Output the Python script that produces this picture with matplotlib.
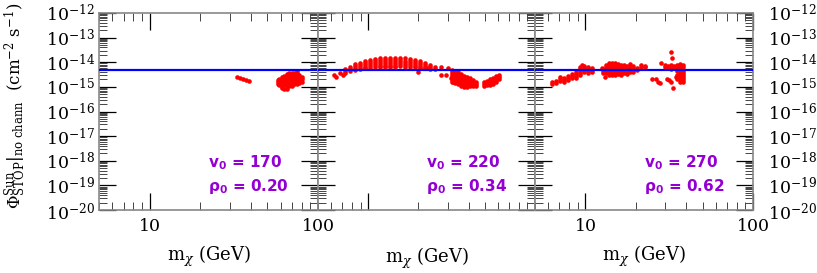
import numpy as np
import matplotlib.pyplot as plt
from matplotlib.ticker import FixedLocator, LogLocator, NullFormatter

plt.rcParams['font.family'] = 'DejaVu Serif'
plt.rcParams['mathtext.fontset'] = 'dejavuserif'

# flux values below are in units of 1e-15 cm^-2 s^-1, masses in GeV
phi_limit = 4.85

# panel 1: v0 = 170, rho0 = 0.20
mx1 = [33.0, 34.4, 35.9, 37.5, 39.1,
       57.5, 57.5, 57.5,
       59, 59, 59, 59,
       61, 61, 61, 61, 61, 61,
       63, 63, 63, 63, 63, 63,
       65, 65, 65, 65, 65, 65, 65,
       67.5, 67.5, 67.5, 67.5, 67.5, 67.5,
       70, 70, 70, 70, 70, 70,
       72.5, 72.5, 72.5, 72.5, 72.5, 72.5,
       75, 75, 75, 75, 75, 75,
       77.5, 77.5, 77.5, 77.5,
       80, 80, 80]
phi1 = [2.5, 2.3, 2.1, 1.9, 1.75,
        1.9, 1.6, 1.3,
        2.1, 1.7, 1.4, 1.15,
        2.5, 2.0, 1.6, 1.3, 1.0, 0.9,
        2.8, 2.2, 1.8, 1.45, 1.15, 0.85,
        3.3, 2.6, 2.1, 1.7, 1.35, 1.05, 0.8,
        3.5, 2.8, 2.2, 1.75, 1.4, 1.1,
        3.6, 2.9, 2.3, 1.8, 1.45, 1.1,
        3.8, 3.0, 2.4, 1.9, 1.5, 1.25,
        4.3, 3.5, 2.7, 2.1, 1.65, 1.3,
        3.0, 2.4, 1.9, 1.5,
        2.6, 2.1, 1.6]

# panel 2: v0 = 220, rho0 = 0.34
mx2 = [6.2, 6.4, 6.8, 7.1,
       7.26, 7.26, 7.26,
       7.78, 7.78, 7.78,
       8.33, 8.33, 8.33, 8.33,
       8.93, 8.93, 8.93, 8.93,
       9.56, 9.56, 9.56, 9.56, 9.56,
       10.25, 10.25, 10.25, 10.25, 10.25,
       11.0, 11.0, 11.0, 11.0, 11.0,
       11.8, 11.8, 11.8, 11.8, 11.8, 11.8,
       12.6, 12.6, 12.6, 12.6, 12.6, 12.6,
       13.5, 13.5, 13.5, 13.5, 13.5, 13.5,
       14.5, 14.5, 14.5, 14.5, 14.5, 14.5,
       15.5, 15.5, 15.5, 15.5, 15.5,
       16.6, 16.6, 16.6, 16.6, 16.6,
       17.8, 17.8, 17.8, 17.8, 17.8,
       19.1, 19.1, 19.1, 19.1, 19.1,
       20.4, 20.4, 20.4, 20.4, 20.4,
       21.9, 21.9, 21.9, 21.9,
       23.5, 23.5, 23.5,
       25.2, 25.2,
       19.9, 22.8,
       27.3, 29.9, 27.3, 29.2, 31.4, 32.3,
       31.8, 31.8, 31.8, 31.8, 31.8, 31.8, 31.8,
       33.2, 33.2, 33.2, 33.2, 33.2, 33.2, 33.2,
       34.6, 34.6, 34.6, 34.6, 34.6, 34.6, 34.6,
       36.0, 36.0, 36.0, 36.0, 36.0, 36.0, 36.0,
       37.5, 37.5, 37.5, 37.5, 37.5, 37.5, 37.5,
       39.1, 39.1, 39.1, 39.1, 39.1, 39.1,
       40.8, 40.8, 40.8, 40.8, 40.8,
       42.5, 42.5, 42.5, 42.5,
       44.3, 44.3, 44.3,
       49.5, 49.5, 49.5,
       51.5, 51.5, 51.5,
       53.7, 53.7, 53.7, 53.7,
       56.0, 56.0, 56.0, 56.0,
       58.4, 58.4, 58.4, 58.4,
       60.8, 60.8, 60.8]
phi2 = [3.0, 2.5, 3.65, 3.0,
        5.3, 4.4, 3.65,
        6.4, 5.3, 4.4,
        8.5, 7.05, 5.85, 4.85,
        9.3, 7.7, 6.4, 5.3,
        11.2, 9.3, 7.7, 6.4, 5.85,
        12.3, 10.2, 8.5, 7.05, 5.85,
        13.6, 11.2, 9.3, 7.7, 6.4,
        14.2, 12.3, 10.2, 8.5, 7.05, 6.2,
        14.9, 12.3, 10.2, 8.5, 7.05, 6.2,
        14.9, 12.3, 10.2, 8.5, 7.05, 6.2,
        14.9, 12.3, 10.2, 8.5, 7.05, 6.2,
        14.5, 12.0, 10.0, 8.3, 6.9,
        14.2, 11.7, 9.7, 8.0, 6.6,
        13.6, 11.2, 9.3, 7.7, 6.4,
        12.3, 10.2, 8.5, 7.05, 6.2,
        11.2, 9.3, 7.7, 6.4, 5.85,
        9.3, 7.7, 6.4, 5.6,
        7.7, 6.4, 5.3,
        6.4, 5.3,
        4.0, 5.85,
        6.4, 5.85, 3.0, 3.0, 2.29, 1.57,
        4.85, 4.0, 3.33, 2.77, 2.29, 1.9, 1.57,
        4.4, 3.65, 3.0, 2.5, 2.1, 1.73, 1.43,
        4.0, 3.33, 2.77, 2.29, 1.9, 1.57, 1.30,
        3.33, 2.77, 2.29, 1.9, 1.57, 1.30, 1.08,
        2.77, 2.29, 1.9, 1.57, 1.30, 1.08, 0.98,
        2.5, 2.1, 1.73, 1.43, 1.18, 0.98,
        2.29, 1.9, 1.57, 1.30, 1.08,
        1.9, 1.57, 1.30, 1.08,
        1.57, 1.30, 1.08,
        1.57, 1.30, 1.08,
        1.73, 1.43, 1.18,
        2.1, 1.73, 1.43, 1.18,
        2.29, 1.9, 1.57, 1.30,
        2.77, 2.29, 1.9, 1.57,
        3.0, 2.5, 2.1]

# panel 3: v0 = 270, rho0 = 0.62
mx3 = [6.3, 6.3,
       6.67, 6.67,
       7.05, 7.05, 7.05,
       7.45, 7.45, 7.45,
       7.87, 7.87, 7.87,
       8.3, 8.3, 8.3,
       8.8, 8.8, 8.8, 8.8,
       9.28, 9.28, 9.28, 9.28, 9.28,
       9.8, 9.8, 9.8, 9.8,
       10.35, 10.35, 10.35, 10.35,
       10.9, 10.9, 10.9,
       9.5,
       12.6, 12.7, 12.7, 12.7,
       13.3, 13.3, 13.3, 13.3, 13.3,
       13.8, 13.8, 13.8, 13.8, 13.8, 13.8, 13.8,
       14.4, 14.4, 14.4, 14.4, 14.4, 14.4, 14.4,
       15.0, 15.0, 15.0, 15.0, 15.0, 15.0, 15.0,
       15.6, 15.6, 15.6, 15.6, 15.6, 15.6,
       16.3, 16.3, 16.3, 16.3, 16.3, 16.3,
       17.0, 17.0, 17.0, 17.0, 17.0,
       17.7, 17.7, 17.7, 17.7, 17.7,
       18.4, 18.4, 18.4, 18.4, 18.4,
       19.2, 19.2, 19.2, 19.2,
       20.3, 20.3,
       21.5, 21.5,
       22.7, 22.7,
       13.0,
       25.0, 26.5, 27.2, 28.0, 28.2,
       32.4, 33.0,
       29.8, 29.8, 31.1, 31.1, 32.4, 32.4, 32.4, 33.8, 33.8,
       35.2, 35.2, 35.2, 36.7, 36.7, 36.7, 38.2, 38.2,
       36.7, 36.7, 36.7, 36.7, 36.7, 36.7, 36.7,
       38.2, 38.2, 38.2, 38.2, 38.2, 38.2, 38.2,
       35.2, 35.2, 35.2,
       30.5, 31.5, 32.4, 33.3, 34.5]
phi3 = [1.57, 1.30,
        1.73, 1.43,
        2.5, 2.1, 1.73,
        2.29, 1.9, 1.57,
        2.77, 2.29, 1.9,
        3.33, 2.77, 2.29,
        4.0, 3.33, 2.77, 2.29,
        6.4, 5.3, 4.4, 3.65, 3.0,
        7.05, 5.85, 4.85, 4.0,
        6.4, 5.3, 4.4, 3.65,
        5.85, 4.85, 4.0,
        7.7,
        5.85, 5.3, 4.4, 3.65,
        7.7, 6.4, 5.3, 4.4, 3.65,
        9.3, 7.7, 6.4, 5.3, 4.4, 3.65, 3.0,
        9.3, 7.7, 6.4, 5.3, 4.4, 3.65, 3.0,
        9.3, 7.7, 6.4, 5.3, 4.4, 3.65, 3.0,
        8.5, 7.05, 5.85, 4.85, 4.0, 3.33,
        7.7, 6.4, 5.3, 4.4, 3.65, 3.0,
        7.7, 6.4, 5.3, 4.4, 3.65,
        7.05, 5.85, 4.85, 4.0, 3.33,
        8.5, 7.05, 5.85, 4.85, 4.0,
        7.05, 5.85, 4.85, 4.0,
        5.85, 4.85,
        7.7, 6.4,
        7.05, 6.4,
        2.5,
        2.0, 2.0, 1.6, 1.5, 9.3,
        26.0, 14.9,
        7.7, 6.4, 7.05, 5.85, 7.7, 6.4, 5.3, 7.05, 5.85,
        7.7, 6.4, 5.3, 8.5, 7.05, 5.85, 7.7, 6.4,
        4.85, 4.0, 3.33, 2.77, 2.29, 1.9, 1.57,
        4.85, 4.0, 3.33, 2.77, 2.29, 1.9, 1.57,
        4.4, 3.0, 2.1,
        2.1, 1.9, 1.57, 0.89, 2.5]

panels = [(mx1, phi1, '170', '0.20'),
          (mx2, phi2, '220', '0.34'),
          (mx3, phi3, '270', '0.62')]
ytick_vals = [1e-20, 1e-19, 1e-18, 1e-17, 1e-16, 1e-15, 1e-14, 1e-13, 1e-12]
ytick_labels = [r'$10^{-20}$', r'$10^{-19}$', r'$10^{-18}$', r'$10^{-17}$',
                r'$10^{-16}$', r'$10^{-15}$', r'$10^{-14}$', r'$10^{-13}$',
                r'$10^{-12}$']
xlabel_sets = [['10', '100'], [], ['10', '100']]

fig = plt.figure(figsize=(8.17, 2.73), dpi=100)
lefts = [99, 318, 535]
widths = [219, 217, 218]
purple = '#9400d3'

for i, (mx, phi, v0, rho0) in enumerate(panels):
    ax = fig.add_axes([lefts[i] / 817, 63 / 273, widths[i] / 817, 197 / 273])
    ax.set_xscale('log')
    ax.set_yscale('log')
    ax.set_xlim(5, 100)
    ax.set_ylim(1e-20, 1e-12)

    ax.plot(mx, np.array(phi) * 1e-15, ls='none', marker='o', ms=3.3,
            mew=0, color='red', zorder=2)
    ax.axhline(phi_limit * 1e-15, color='blue', lw=1.6, zorder=3)

    ax.yaxis.set_major_locator(FixedLocator(ytick_vals))
    ax.yaxis.set_minor_locator(LogLocator(base=10, subs=np.arange(2, 10), numticks=20))
    ax.yaxis.set_minor_formatter(NullFormatter())
    ax.xaxis.set_major_locator(FixedLocator([10, 100]))
    ax.xaxis.set_minor_locator(LogLocator(base=10, subs=np.arange(2, 10), numticks=20))
    ax.xaxis.set_minor_formatter(NullFormatter())
    if xlabel_sets[i]:
        ax.set_xticklabels(xlabel_sets[i])
    else:
        ax.set_xticklabels([])

    ax.tick_params(which='both', direction='in', top=True, right=True,
                   left=True, bottom=True, labelsize=12.5)
    ax.tick_params(which='major', length=12, width=0.9, color='black')
    ax.tick_params(which='minor', length=6, width=0.7, color='#444444')
    ax.tick_params(axis='x', which='major', pad=6)

    if i == 0:
        ax.set_yticklabels(ytick_labels)
        ax.tick_params(axis='y', which='major', pad=3)
    elif i == 2:
        ax.yaxis.set_ticklabels(ytick_labels)
        ax.tick_params(axis='y', labelleft=False, labelright=True, pad=11)
    else:
        ax.set_yticklabels([])

    for sp in ax.spines.values():
        sp.set_color('#888888')
        sp.set_linewidth(1.2)

    ax.set_xlabel(r'm$_\chi$ (GeV)', fontsize=13, labelpad=6 if i != 1 else 20)

    ax.text(0.5, 0.24, r'$\mathbf{v_0}$ = ' + v0, transform=ax.transAxes,
            color=purple, fontsize=11, fontweight='bold', family='DejaVu Sans',
            math_fontfamily='dejavusans', va='center', ha='left')
    ax.text(0.5, 0.117, r'$\mathbf{\rho_0}$ = ' + rho0, transform=ax.transAxes,
            color=purple, fontsize=11, fontweight='bold', family='DejaVu Sans',
            math_fontfamily='dejavusans', va='center', ha='left')

fig.text(15 / 817, 1 - 106 / 273,
         r'$\Phi^{\rm Sun}_{\rm STOP}|_{\rm no\ chann}$  (cm$^{-2}$ s$^{-1}$)',
         rotation=90, ha='center', va='center', fontsize=12)

fig.savefig('out.png', dpi=100)
